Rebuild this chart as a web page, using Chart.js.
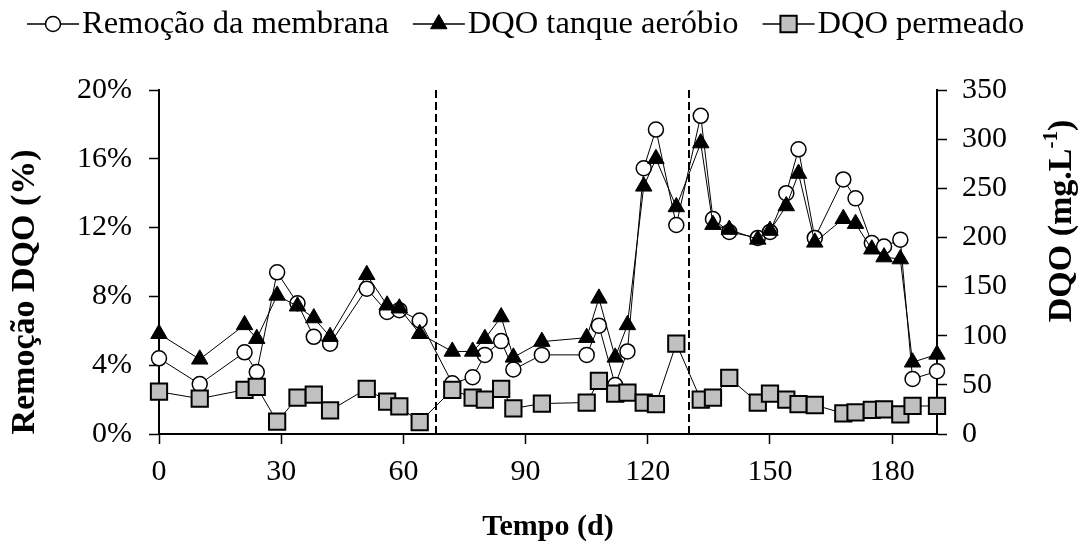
<!DOCTYPE html>
<html>
<head>
<meta charset="utf-8">
<title>Remoção DQO</title>
<script src="https://cdn.jsdelivr.net/npm/chart.js@4.4.1/dist/chart.umd.min.js"></script>
<style>
  html, body { margin: 0; padding: 0; background: #fff; }
  #wrap { width: 1081px; height: 550px; }
</style>
</head>
<body>
<div id="wrap"><canvas id="grafico" width="1081" height="550"></canvas></div>
<script>
// Dados
const dias = [0, 10, 21, 24, 29, 34, 38, 42, 51, 56, 59, 64, 72, 77, 80, 84, 87, 94, 105, 108,
  112, 115, 119, 122, 127, 133, 136, 140, 147, 150, 154, 157, 161, 168, 171, 175, 178, 182, 185, 191];
const remocao = [4.4, 2.9, 4.75, 3.6, 9.4, 7.6, 5.65, 5.25, 8.45, 7.1, 7.2, 6.6, 2.95, 3.3, 4.6, 5.4, 3.75, 4.6, 4.6, 6.3,
  2.85, 4.8, 15.45, 17.7, 12.15, 18.5, 12.5, 11.75, 11.4, 11.75, 14.0, 16.55, 11.4, 14.8, 13.7, 11.1, 10.9, 11.3, 3.2, 3.65];
const dqoTanque = [102, 76, 111, 97, 141, 130, 118, 99, 162, 131, 128, 102, 84, 84, 97, 119, 78, 94, 98, 138,
  78, 111, 252, 280, 231, 296, 213, 208, 198, 207, 232, 265, 195, 219, 214, 188, 180, 178, 73, 81];
const dqoPermeado = [43, 36, 45, 48, 12.5, 37, 40, 24, 46, 33, 28, 12, 45, 37, 35, 46, 26, 31, 32, 54,
  41, 42, 32, 30.5, 92, 35, 37, 57, 32, 41, 35, 30.5, 29.5, 21, 22, 24.5, 25, 20, 28.5, 28.5];

// Ticks e linhas de fase
const xTicks = [0, 30, 60, 90, 120, 150, 180];
const remocaoTicks = [0, 4, 8, 12, 16, 20];
const dqoTicks = [0, 50, 100, 150, 200, 250, 300, 350];
const fases = [68, 130];

const serif = '"Liberation Serif", "Times New Roman", serif';
const pts = (ys) => dias.map((d, i) => ({ x: d, y: ys[i] }));
const setTicks = (vals) => (scale) => { scale.ticks = vals.map(v => ({ value: v })); };

// Linhas tracejadas verticais (mudança de fase)
const linhasFase = {
  id: 'linhasFase',
  beforeDatasetsDraw(chart) {
    const { ctx, chartArea, scales } = chart;
    ctx.save();
    ctx.strokeStyle = '#000';
    ctx.lineWidth = 2;
    ctx.setLineDash([8, 4]);
    fases.forEach(f => {
      const x = Math.round(scales.x.getPixelForValue(f));
      ctx.beginPath();
      ctx.moveTo(x, chartArea.top);
      ctx.lineTo(x, chartArea.bottom);
      ctx.stroke();
    });
    ctx.restore();
  }
};

// Títulos dos eixos verticais (posição como no original)
const titulosY = {
  id: 'titulosY',
  afterDraw(chart) {
    const ctx = chart.ctx;
    ctx.save();
    ctx.fillStyle = '#000';
    ctx.textBaseline = 'middle';
    ctx.textAlign = 'center';
    ctx.font = 'bold 34px ' + serif;
    ctx.translate(25, 292);
    ctx.rotate(-Math.PI / 2);
    ctx.fillText('Remoção DQO (%)', 0, 0);
    ctx.restore();

    ctx.save();
    ctx.fillStyle = '#000';
    ctx.textBaseline = 'middle';
    ctx.textAlign = 'left';
    ctx.translate(1062, 221);
    ctx.rotate(-Math.PI / 2);
    const big = 'bold 34px ' + serif, small = 'bold 21px ' + serif;
    ctx.font = big; const w1 = ctx.measureText('DQO (mg.L').width; const w3 = ctx.measureText(')').width;
    ctx.font = small; const w2 = ctx.measureText('-1').width;
    let x = -(w1 + w2 + w3) / 2;
    ctx.font = big; ctx.fillText('DQO (mg.L', x, 0); x += w1;
    ctx.font = small; ctx.fillText('-1', x, -10); x += w2;
    ctx.font = big; ctx.fillText(')', x, 0);
    ctx.restore();
  }
};

// Legenda no estilo linha-marcador-linha
const legenda = {
  id: 'legenda',
  afterDraw(chart) {
    const ctx = chart.ctx;
    const y = 24;
    let x0 = 27;
    ctx.save();
    ctx.font = '32.5px ' + serif;
    ctx.textBaseline = 'middle';
    ctx.textAlign = 'left';
    chart.data.datasets.forEach(ds => {
      ctx.strokeStyle = '#000';
      ctx.lineWidth = 1.5;
      ctx.beginPath();
      ctx.moveTo(x0, y);
      ctx.lineTo(x0 + 52, y);
      ctx.stroke();
      ctx.fillStyle = ds.pointBackgroundColor;
      ctx.lineWidth = ds.pointBorderWidth;
      Chart.helpers.drawPoint(ctx, { pointStyle: ds.pointStyle, radius: ds.pointRadius, borderWidth: ds.pointBorderWidth, rotation: 0 }, x0 + 26, y);
      ctx.fillStyle = '#000';
      ctx.fillText(ds.label, x0 + 55, y);
      x0 += 55 + ctx.measureText(ds.label).width + 24;
    });
    ctx.restore();
  }
};

new Chart(document.getElementById('grafico'), {
  type: 'scatter',
  data: {
    datasets: [{
      label: 'Remoção da membrana',
      data: pts(remocao),
      yAxisID: 'yRem',
      showLine: true,
      borderColor: '#000',
      borderWidth: 1,
      pointStyle: 'circle',
      pointRadius: 7.5,
      pointBorderWidth: 1.5,
      pointBackgroundColor: '#fff',
      pointBorderColor: '#000',
      order: 3,
      clip: false
    }, {
      label: 'DQO tanque aeróbio',
      data: pts(dqoTanque),
      yAxisID: 'yDqo',
      showLine: true,
      borderColor: '#000',
      borderWidth: 1,
      pointStyle: 'triangle',
      pointRadius: 9.5,
      pointBorderWidth: 1,
      pointBackgroundColor: '#000',
      pointBorderColor: '#000',
      order: 1,
      clip: false
    }, {
      label: 'DQO permeado',
      data: pts(dqoPermeado),
      yAxisID: 'yDqo',
      showLine: true,
      borderColor: '#000',
      borderWidth: 1,
      pointStyle: 'rect',
      pointRadius: 11.5,
      pointBorderWidth: 2,
      pointBackgroundColor: '#c0c0c0',
      pointBorderColor: '#000',
      order: 2,
      clip: false
    }]
  },
  options: {
    responsive: false,
    animation: false,
    layout: { padding: { top: 90, left: 0, right: 0, bottom: 0 } },
    plugins: {
      legend: { display: false },
      tooltip: { enabled: false }
    },
    scales: {
      x: {
        type: 'linear',
        min: 0,
        max: 191,
        afterBuildTicks: setTicks(xTicks),
        afterFit: (s) => { s.height = 116; },
        grid: { drawOnChartArea: false, color: '#000', tickLength: 10, tickWidth: 1.5 },
        border: { color: '#000', width: 2 },
        ticks: { color: '#000', font: { family: serif, size: 30 }, padding: 10, maxRotation: 0 },
        title: {
          display: true,
          text: 'Tempo (d)',
          color: '#000',
          font: { family: serif, size: 30, weight: 'bold' },
          padding: { top: 0, bottom: 5 }
        }
      },
      yRem: {
        position: 'left',
        min: 0,
        max: 20,
        afterBuildTicks: setTicks(remocaoTicks),
        afterFit: (s) => { s.width = 159; },
        grid: { drawOnChartArea: false, color: '#000', tickLength: 10, tickWidth: 1.5 },
        border: { color: '#000', width: 2 },
        ticks: { color: '#000', font: { family: serif, size: 30 }, padding: 17, callback: v => v + '%' }
      },
      yDqo: {
        position: 'right',
        min: 0,
        max: 350,
        afterBuildTicks: setTicks(dqoTicks),
        afterFit: (s) => { s.width = 144; },
        grid: { drawOnChartArea: false, color: '#000', tickLength: 10, tickWidth: 1.5 },
        border: { color: '#000', width: 2 },
        ticks: { color: '#000', font: { family: serif, size: 30 }, padding: 15 }
      }
    }
  },
  plugins: [linhasFase, titulosY, legenda]
});
</script>
</body>
</html>
